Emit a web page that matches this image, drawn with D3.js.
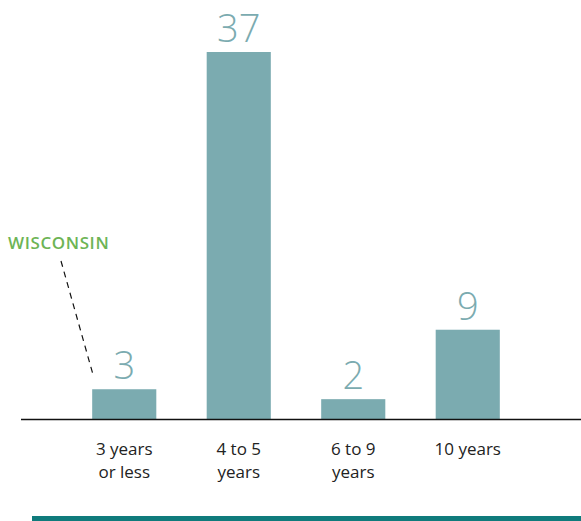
<!DOCTYPE html>
<html><head><meta charset="utf-8">
<script src="https://cdn.jsdelivr.net/npm/d3@7"></script>
<style>body{margin:0;background:#fff;}svg{display:block;}</style>
</head><body><svg id="c" width="581" height="521"></svg>
<script>
const categories = [["3 years","or less"],["4 to 5","years"],["6 to 9","years"],["10 years"]];
const values = [3, 37, 2, 9];
const highlightLabel = "WISCONSIN";

const svg = d3.select("#c");
const baseY = 419;
const x = d3.scaleBand().domain(d3.range(categories.length)).range([67, 525]).paddingInner(0.44).paddingOuter(0.22);
const y = d3.scaleLinear().domain([0, 37]).range([baseY, 52]);
const barColor = "#7babb0";

svg.selectAll("rect.bar").data(values).join("rect")
  .attr("x",(d,i)=>x(i)).attr("width",x.bandwidth())
  .attr("y",d=>y(d)).attr("height",d=>baseY-y(d)).attr("fill",barColor);

svg.selectAll("text.val").data(values).join("text")
  .attr("x",(d,i)=>x(i)+x.bandwidth()/2).attr("y",d=>y(d)-10)
  .attr("text-anchor","middle").attr("font-family","Open Sans, sans-serif").attr("font-weight",300)
  .attr("font-size",38).attr("fill",barColor).text(d=>d);

svg.append("line").attr("x1",21).attr("x2",581).attr("y1",baseY+0.5).attr("y2",baseY+0.5).attr("stroke","#111").attr("stroke-width",1.5);

const lab = svg.selectAll("text.cat").data(categories).join("text")
  .attr("text-anchor","middle").attr("font-family","Open Sans, sans-serif").attr("font-size",17).attr("fill","#222");
lab.each(function(d,i){
  d3.select(this).selectAll("tspan").data(d).join("tspan")
    .attr("x",x(i)+x.bandwidth()/2).attr("y",(t,j)=>455+j*23).text(t=>t);
});

svg.append("text").attr("x",8).attr("y",249).attr("font-family","Open Sans, sans-serif").attr("font-weight",600)
  .attr("font-size",17).attr("letter-spacing",0.6).attr("fill","#6db455").text(highlightLabel);
svg.append("line").attr("x1",61).attr("y1",261).attr("x2",x(0)+1).attr("y2",y(values[0])-14)
  .attr("stroke","#111").attr("stroke-width",1.2).attr("stroke-dasharray","6,5");

svg.append("rect").attr("x",32).attr("y",516).attr("width",549).attr("height",5).attr("fill","#0f7b7c");
</script></body></html>
